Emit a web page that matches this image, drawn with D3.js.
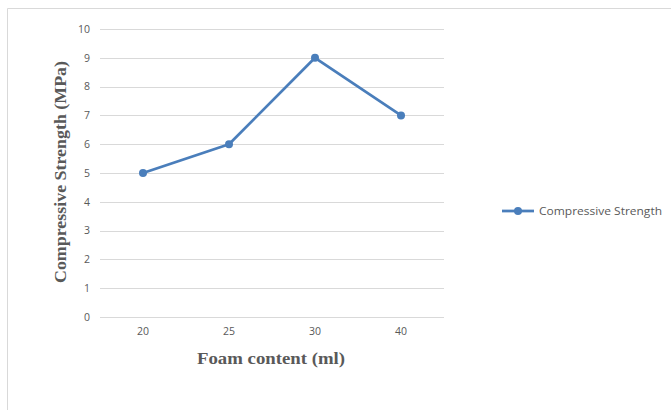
<!DOCTYPE html>
<html><head><meta charset="utf-8">
<script src="https://cdn.jsdelivr.net/npm/d3@7"></script>
<style>body{margin:0;background:#fff}svg{display:block}</style>
</head><body>
<svg id="c" width="671" height="410"></svg>
<script>
const categories = ["20","25","30","40"];
const values = [5,6,9,7];
const yTicks = [0,1,2,3,4,5,6,7,8,9,10];
const seriesName = "Compressive Strength";
const xTitle = "Foam content (ml)";
const yTitle = "Compressive Strength (MPa)";

const svg = d3.select("#c");
const color = "#4a7ebb";
const txt = "#595959";
svg.append("path").attr("d","M7.5,410 V8.5 H671").attr("fill","none").attr("stroke","#d9d9d9").attr("stroke-width",1);

const x = d3.scaleBand().domain(categories).range([100,444]);
const y = d3.scaleLinear().domain([0,10]).range([317,29]);

const g = svg.append("g");
g.selectAll("line.grid").data(yTicks).join("line")
  .attr("x1",100).attr("x2",444)
  .attr("y1",d=>Math.round(y(d))+0.5).attr("y2",d=>Math.round(y(d))+0.5)
  .attr("stroke","#d9d9d9").attr("stroke-width",1);

const yAxis = svg.append("g").attr("transform","translate(100,0)")
  .call(d3.axisLeft(y).tickValues(yTicks).tickSize(0).tickPadding(10));
yAxis.select(".domain").remove();
yAxis.selectAll("text").attr("fill",txt).style("font-family","'Open Sans',sans-serif").style("font-size","10.5px");

const xAxis = svg.append("g").attr("transform","translate(0,317)")
  .call(d3.axisBottom(x).tickSize(0).tickPadding(11));
xAxis.select(".domain").remove();
xAxis.selectAll("text").attr("fill",txt).style("font-family","'Open Sans',sans-serif").style("font-size","10.5px");

const cx = (d,i)=>x(categories[i])+x.bandwidth()/2;
svg.append("path").datum(values)
  .attr("d", d3.line().x((d,i)=>cx(d,i)).y(d=>y(d)))
  .attr("fill","none").attr("stroke",color).attr("stroke-width",2.75).attr("stroke-linejoin","round");
svg.selectAll("circle.pt").data(values).join("circle")
  .attr("cx",(d,i)=>cx(d,i)).attr("cy",d=>y(d)).attr("r",4).attr("fill",color);

svg.append("text").attr("x",271).attr("y",364).attr("text-anchor","middle")
  .attr("textLength",148).attr("lengthAdjust","spacingAndGlyphs")
  .attr("fill",txt).style("font-family","'Liberation Serif',serif").style("font-weight","bold").style("font-size","17px")
  .text(xTitle);
svg.append("text").attr("transform","translate(66,172) rotate(-90)").attr("text-anchor","middle")
  .attr("textLength",222).attr("lengthAdjust","spacingAndGlyphs")
  .attr("fill",txt).style("font-family","'Liberation Serif',serif").style("font-weight","bold").style("font-size","17px")
  .text(yTitle);

const lg = svg.append("g").attr("transform","translate(502,211)");
lg.append("line").attr("x1",0).attr("x2",32).attr("stroke",color).attr("stroke-width",2.75);
lg.append("circle").attr("cx",16).attr("r",4).attr("fill",color);
lg.append("text").attr("x",37).attr("y",4).attr("fill",txt)
  .attr("textLength",123).attr("lengthAdjust","spacingAndGlyphs")
  .style("font-family","'Open Sans',sans-serif").style("font-size","11px").text(seriesName);
</script>
</body></html>
